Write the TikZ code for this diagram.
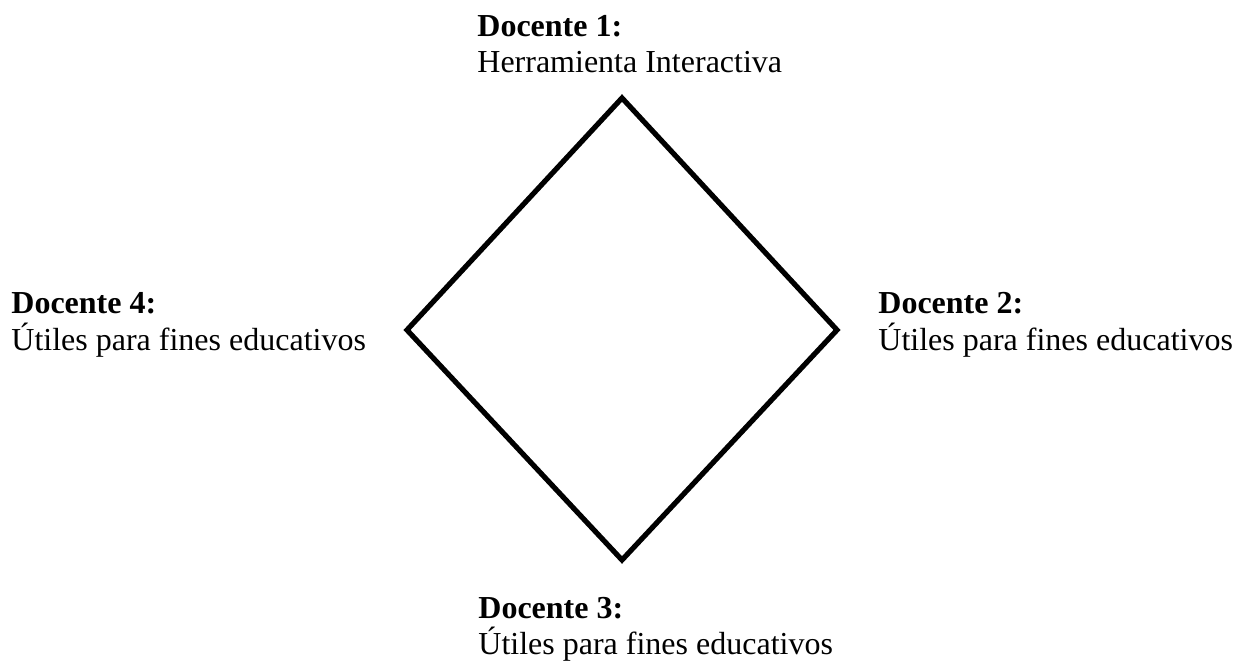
\documentclass[tikz,border=0pt]{standalone}
\usepackage{fontspec}
\setmainfont{Liberation Serif}
\begin{document}
\begin{tikzpicture}[x=0.5pt,y=-0.5pt,
  title/.style={anchor=base west,inner sep=0pt,font=\fontsize{16}{18}\selectfont\bfseries},
  desc/.style={anchor=base west,inner sep=0pt,font=\fontsize{16}{18}\selectfont},
  edge/.style={line width=2.6pt,line join=miter,black}]
\useasboundingbox (0,0) rectangle (1237,662);
\coordinate (t) at (622,98);
\coordinate (r) at (837,330);
\coordinate (b) at (622,560);
\coordinate (l) at (407,330);
\draw[edge] (t) -- (r) -- (b) -- (l) -- cycle;
\node[title] (d1) at (477,37) {Docente 1:};
\node[desc] (d1t) at (477,73) {Herramienta Interactiva};
\node[title] (d2) at (878,314) {Docente 2:};
\node[desc] (d2t) at (878,351) {Útiles para fines educativos};
\node[title] (d3) at (478,618) {Docente 3:};
\node[desc] (d3t) at (478,654) {Útiles para fines educativos};
\node[title] (d4) at (11,314) {Docente 4:};
\node[desc] (d4t) at (11,351) {Útiles para fines educativos};
\end{tikzpicture}
\end{document}
